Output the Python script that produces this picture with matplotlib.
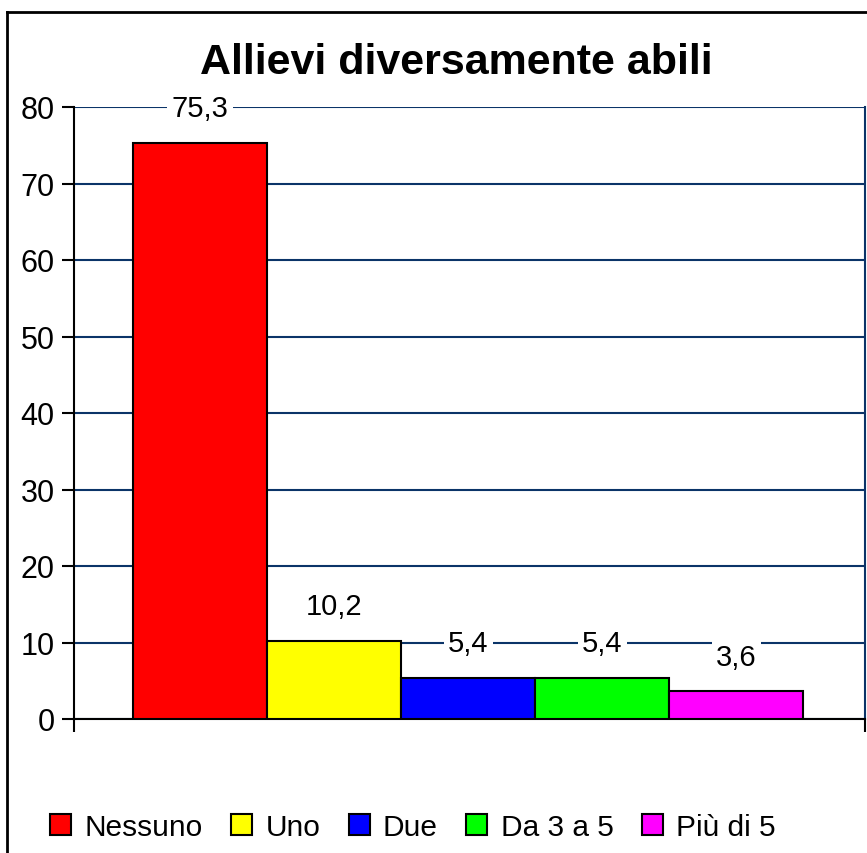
import matplotlib
matplotlib.use('Agg')
from matplotlib import pyplot as plt
from matplotlib.lines import Line2D
from matplotlib.patches import Patch
import numpy as np

plt.rcParams['font.family'] = ['Liberation Sans', 'DejaVu Sans']

categorie = ['Nessuno', 'Uno', 'Due', 'Da 3 a 5', 'Più di 5']
valori = [75.3, 10.2, 5.4, 5.4, 3.6]
colori = ['#ff0000', '#ffff00', '#0000ff', '#00ff00', '#ff00ff']
yticks = [0, 10, 20, 30, 40, 50, 60, 70, 80]

fig = plt.figure(figsize=(8.67, 8.54), dpi=100)
ax = fig.add_axes([74/867, 134/854, 791/867, 612/854])

x = np.arange(len(categorie))
ax.bar(x, valori, width=1.0, color=colori, edgecolor='black', linewidth=1.5, zorder=3)

for xi, v in zip(x, valori):
    ax.annotate(f'{v:.1f}'.replace('.', ','), (xi, v), xytext=(0, 25),
                textcoords='offset points', ha='center', va='center', fontsize=21,
                bbox=dict(boxstyle='square,pad=0.15', fc='white', ec='none'), zorder=5)

ax.set_ylim(0, 80)
ax.set_xlim(-0.94, 4.96)
ax.set_yticks(yticks)
ax.tick_params(axis='y', labelsize=22, length=9, width=1.5, direction='out', pad=5)
ax.set_xticks([-0.94, 4.96])
ax.set_xticklabels(['', ''])
ax.tick_params(axis='x', length=9, width=1.5, direction='out')
ax.yaxis.grid(True, color='#0b3468', linewidth=1.5, zorder=0)
ax.set_axisbelow(True)
ax.spines['top'].set_visible(False)
ax.spines['left'].set_linewidth(1.5)
ax.spines['bottom'].set_linewidth(1.5)
ax.spines['right'].set_color('#0b3468')
ax.spines['right'].set_linewidth(1.5)

fig.text(456/867, 1 - 63/854, 'Allievi diversamente abili', ha='center', va='center',
         fontsize=31, fontweight='bold')

# bordo del grafico
fig.add_artist(Line2D([7/867, 7/867], [0, 1 - 13/854], color='black', linewidth=2, transform=fig.transFigure))
fig.add_artist(Line2D([7/867, 1], [1 - 13/854, 1 - 13/854], color='black', linewidth=2, transform=fig.transFigure))

handles = [Patch(facecolor=c, edgecolor='black', linewidth=1.5) for c in colori]
fig.legend(handles, categorie, loc='center', bbox_to_anchor=(413/867, 1 - 828/854), ncol=5,
           frameon=False, fontsize=21.5, handlelength=0.7, handleheight=0.7,
           handletextpad=0.45, columnspacing=0.95)

fig.savefig('out.png', dpi=100)
